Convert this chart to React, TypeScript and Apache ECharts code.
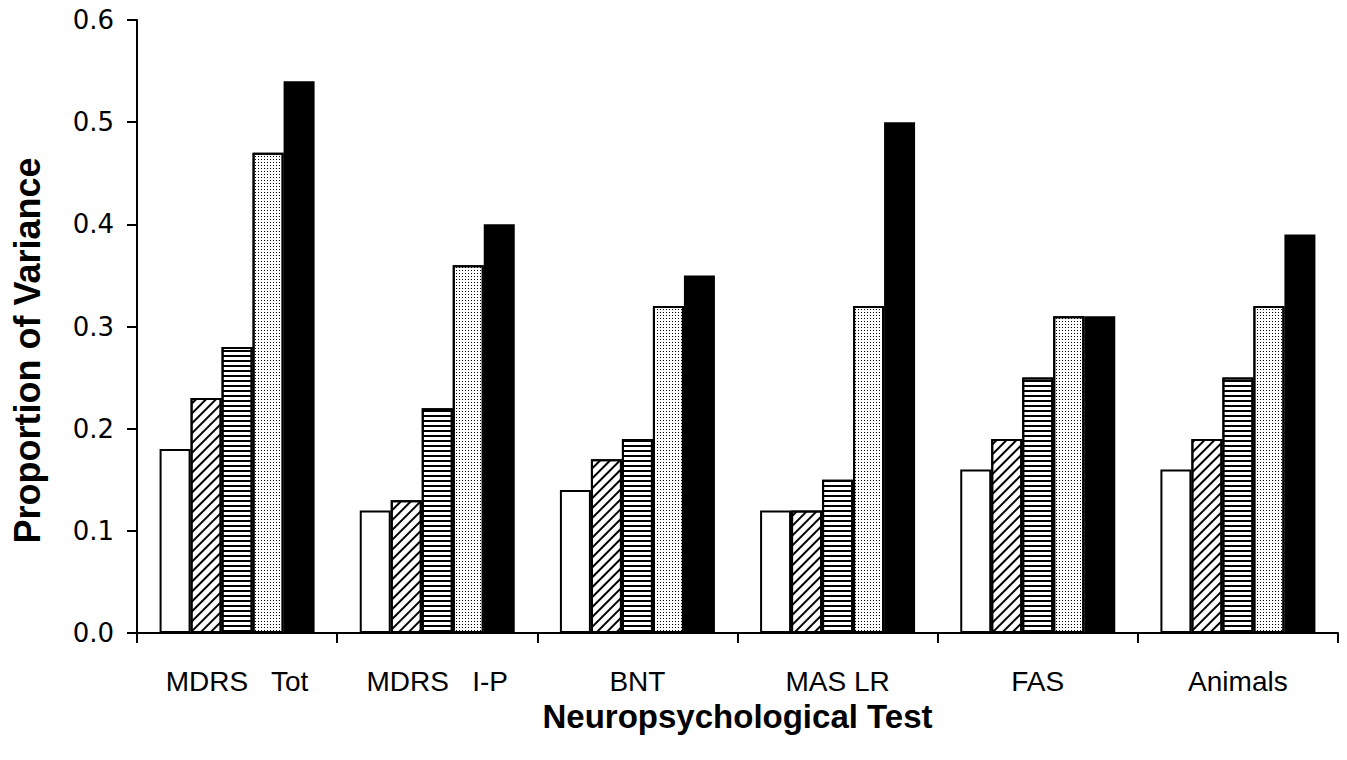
import React, { useEffect, useRef } from "react";
import * as echarts from "echarts";

const categories = ["MDRS   Tot", "MDRS   I-P", "BNT", "MAS LR", "FAS", "Animals"];
const seriesA = [0.18, 0.12, 0.14, 0.12, 0.16, 0.16];
const seriesB = [0.23, 0.13, 0.17, 0.12, 0.19, 0.19];
const seriesC = [0.28, 0.22, 0.19, 0.15, 0.25, 0.25];
const seriesD = [0.47, 0.36, 0.32, 0.32, 0.31, 0.32];
const seriesE = [0.54, 0.4, 0.35, 0.5, 0.31, 0.39];
const yTicks = [0, 0.1, 0.2, 0.3, 0.4, 0.5, 0.6];

const FONT = "Liberation Sans";

export default function App() {
  const ref = useRef<HTMLDivElement>(null);
  useEffect(() => {
    const chart = echarts.init(ref.current!, null, { renderer: "svg" });
    const border = { borderColor: "#000", borderWidth: 2 };
    const mk = (name: string, data: number[], itemStyle: any) => ({
      name,
      type: "bar",
      data,
      barWidth: 31,
      barGap: "0%",
      itemStyle: { ...border, ...itemStyle },
      emphasis: { disabled: true },
    });
    chart.setOption({
      animation: false,
      backgroundColor: "#fff",
      grid: { left: 137, right: 9, top: 20, bottom: 127 },
      xAxis: {
        type: "category",
        data: categories,
        axisLine: { lineStyle: { color: "#000", width: 2 } },
        axisTick: { show: true, length: 10, lineStyle: { color: "#000", width: 2 } },
        axisLabel: { color: "#000", fontFamily: FONT, fontSize: 28, margin: 34 },
        name: "Neuropsychological Test",
        nameLocation: "middle",
        nameGap: 63,
        nameTextStyle: { color: "#000", fontFamily: FONT, fontSize: 33, fontWeight: "bold" },
      },
      yAxis: {
        type: "value",
        min: yTicks[0],
        max: yTicks[yTicks.length - 1],
        interval: 0.1,
        splitLine: { show: false },
        axisLine: { show: true, lineStyle: { color: "#000", width: 2 } },
        axisTick: { show: true, length: 10, lineStyle: { color: "#000", width: 2 } },
        axisLabel: {
          color: "#000",
          fontFamily: "DejaVu Sans",
          fontSize: 26,
          margin: 23,
          formatter: (v: number) => v.toFixed(1),
        },
        name: "Proportion of Variance",
        nameLocation: "middle",
        nameGap: 92,
        nameTextStyle: {
          color: "#000",
          fontFamily: FONT,
          fontSize: 36,
          fontWeight: "bold",
          padding: [0, 48, 0, 0],
        },
      },
      series: [
        mk("A", seriesA, { color: "#fff" }),
        mk("B", seriesB, {
          color: "#fff",
          decal: {
            symbol: "rect",
            symbolSize: 1,
            color: "#000",
            dashArrayX: [1, 0],
            dashArrayY: [2, 5],
            rotation: -Math.PI / 4,
          },
        }),
        mk("C", seriesC, {
          color: "#fff",
          decal: {
            symbol: "rect",
            symbolSize: 1,
            color: "#000",
            dashArrayX: [1, 0],
            dashArrayY: [2, 3],
            rotation: 0,
          },
        }),
        mk("D", seriesD, {
          color: "#fff",
          decal: {
            symbol: "rect",
            symbolSize: 1,
            color: "#000",
            dashArrayX: [1, 2],
            dashArrayY: [1, 2],
            rotation: 0,
          },
        }),
        mk("E", seriesE, { color: "#000" }),
      ],
    });
    return () => chart.dispose();
  }, []);
  return (
    <div
      ref={ref}
      style={{ position: "fixed", left: 0, top: 0, width: 1347, height: 760 }}
    />
  );
}
